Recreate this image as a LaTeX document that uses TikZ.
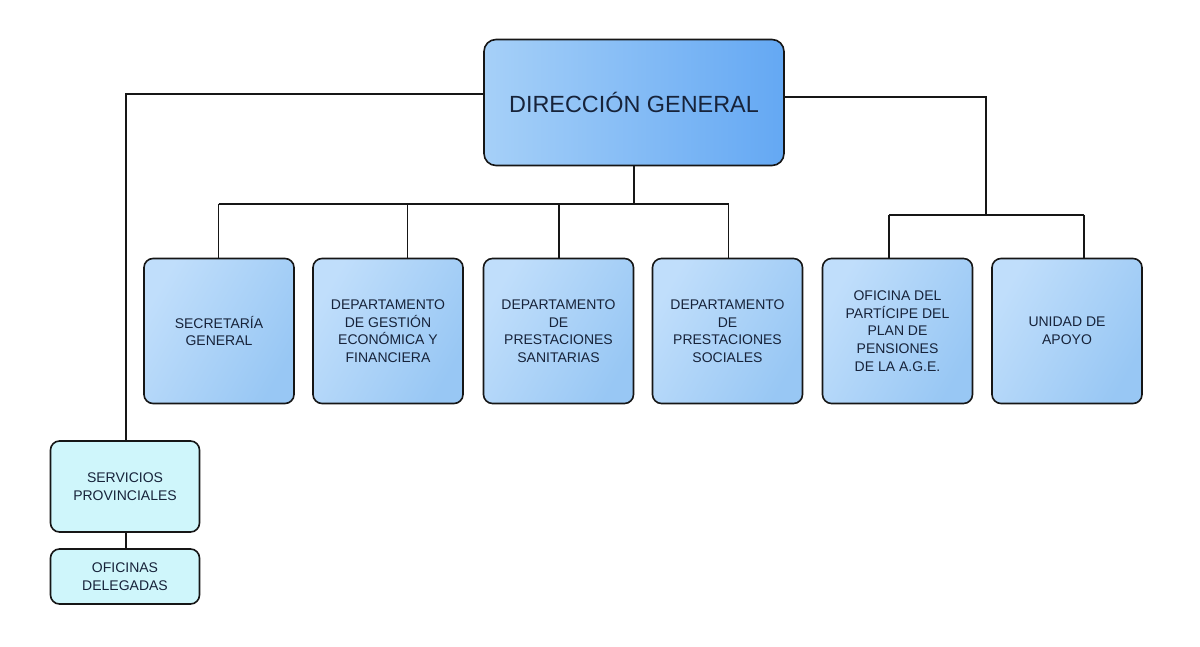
\documentclass[tikz,border=0pt]{standalone}
\usepackage{fontspec}
\setmainfont{Liberation Sans}
\usetikzlibrary{backgrounds}
\definecolor{txt}{HTML}{17233A}
\definecolor{edge}{HTML}{161616}
\definecolor{dgL}{HTML}{A6D0F8}
\definecolor{dgR}{HTML}{64A8F3}
\definecolor{bxL}{HTML}{C0DEFB}
\definecolor{bxR}{HTML}{98C7F4}
\definecolor{cy}{HTML}{CFF6FB}
\tikzset{
  box/.style={rectangle, draw=edge, line width=1.6pt, rounded corners=9pt,
    align=center, text=txt, inner sep=2pt,
    font=\fontsize{14}{17.6}\selectfont},
  dgbox/.style={box, rounded corners=12pt, left color=dgL, right color=dgR,
    font=\fontsize{23.4}{28}\selectfont},
  dept/.style={box, left color=bxL, right color=bxR, shading angle=60,
    minimum width=150pt, minimum height=145pt},
  prov/.style={box, fill=cy, minimum width=149pt},
  conn/.style={draw=edge, line width=1.5pt}
}
\begin{document}
\begin{tikzpicture}[x=1pt,y=-1pt]
\useasboundingbox (0,0) rectangle (1200,647);
% top
\node[dgbox, minimum width=300pt, minimum height=126pt] (dg) at (634,102.5) {DIRECCIÓN GENERAL};
% departments
\node[dept] (sg)   at (219,331) {SECRETARÍA\\GENERAL};
\node[dept] (dgef) at (388,331) {DEPARTAMENTO\\DE GESTIÓN\\ECONÓMICA Y\\FINANCIERA};
\node[dept] (dps)  at (558.5,331) {DEPARTAMENTO\\DE\\PRESTACIONES\\SANITARIAS};
\node[dept] (dpso) at (727.5,331) {DEPARTAMENTO\\DE\\PRESTACIONES\\SOCIALES};
\node[dept] (op)   at (897.5,331) {OFICINA DEL\\PARTÍCIPE DEL\\PLAN DE\\PENSIONES\\DE LA A.G.E.};
\node[dept] (ua)   at (1067,331) {UNIDAD DE\\APOYO};
% provincial
\node[prov, minimum height=91pt] (sp) at (125,486.5) {SERVICIOS\\PROVINCIALES};
\node[prov, minimum height=55pt] (od) at (125,576.5) {OFICINAS\\DELEGADAS};
% connectors
\begin{pgfonlayer}{background}
\fill[white] (0,0) rectangle (1200,647);
\coordinate (l1) at (126,94);
\coordinate (r1) at (986,97);
\coordinate (r2) at (986,215);
\coordinate (ra) at (889,215);
\coordinate (rb) at (1084,215);
\coordinate (b0) at (634,204);
\coordinate (b1) at (218.5,204);
\coordinate (b2) at (407.5,204);
\coordinate (b3) at (559,204);
\coordinate (b4) at (728.5,204);
\draw[conn] (dg.west |- l1) -- (l1) -- (sp.north -| l1);
\draw[conn] (sp.south -| l1) -- (od.north -| l1);
\draw[conn] (dg.east |- r1) -- (r1) -- (r2);
\draw[conn] (ra) -- (rb);
\draw[conn] (ra) -- (op.north -| ra);
\draw[conn] (rb) -- (ua.north -| rb);
\draw[conn] (dg.south -| b0) -- (b0);
\draw[conn] (b1) -- (b4);
\draw[conn] (b1) -- (sg.north -| b1);
\draw[conn] (b2) -- (dgef.north -| b2);
\draw[conn] (b3) -- (dps.north -| b3);
\draw[conn] (b4) -- (dpso.north -| b4);
\end{pgfonlayer}
\end{tikzpicture}
\end{document}
